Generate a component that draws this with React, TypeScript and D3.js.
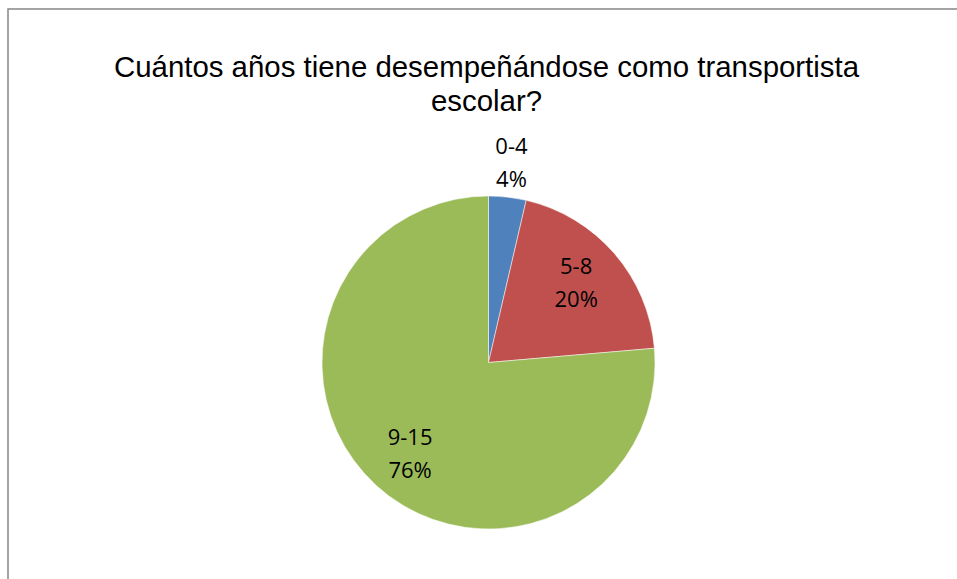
import React from "react";
import * as d3 from "d3";

const titleLines = ["Cuántos años tiene desempeñándose como transportista", "escolar?"];
const categories = ["0-4", "5-8", "9-15"];
const counts = [2, 11, 42];
const colors = ["#4F81BD", "#C0504D", "#9BBB59"];

export default function App() {
  const W = 957, H = 579;
  const cx = 488.5, cy = 362.5, R = 166.5;
  const total = d3.sum(counts);
  const pie = d3.pie<number>().sort(null).value((d) => d)(counts);
  const arc = d3.arc<d3.PieArcDatum<number>>().innerRadius(0).outerRadius(R);
  return (
    <svg width={W} height={H} style={{ position: "absolute", left: 0, top: 0 }}>
      <rect x={0} y={0} width={W} height={H} fill="#fff" />
      <rect x={8} y={9} width={980} height={620} fill="#fff" stroke="#878787" strokeWidth={1.5} />
      <g fontFamily="'Liberation Sans', Arial, sans-serif" fontSize={29.4} fill="#000" textAnchor="middle">
        {titleLines.map((t, i) => (
          <text key={i} x={486.5} y={77 + i * 34}>{t}</text>
        ))}
      </g>
      <g transform={`translate(${cx},${cy})`}>
        {pie.map((p, i) => (
          <path key={i} d={arc(p) || ""} fill={colors[i]} stroke="#fff" strokeWidth={0.5} />
        ))}
        {pie.map((p, i) => {
          const a = (p.startAngle + p.endAngle) / 2;
          const outside = i === 0;
          const rx = outside ? R + 35 : 116;
          const ry = outside ? R + 35 : 123;
          const x = Math.sin(a) * rx;
          const y = -Math.cos(a) * ry;
          const pct = Math.round((counts[i] / total) * 100) + "%";
          return (
            <text key={"l" + i} x={x} y={y} textAnchor="middle" fontFamily="'Open Sans', sans-serif" fontSize={22} fill="#000">
              <tspan x={x} dy={-8}>{categories[i]}</tspan>
              <tspan x={x} dy={32.7}>{pct}</tspan>
            </text>
          );
        })}
      </g>
    </svg>
  );
}
